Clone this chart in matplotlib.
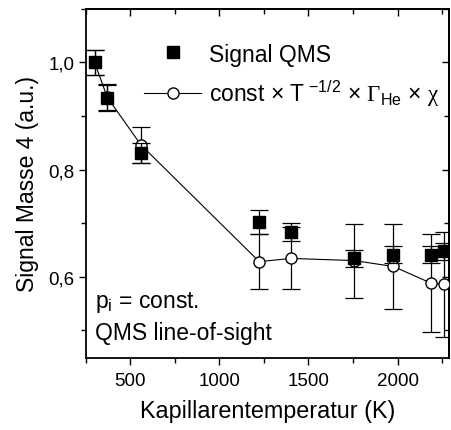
import matplotlib
matplotlib.use("Agg")
import matplotlib.pyplot as plt
from matplotlib.ticker import MultipleLocator, FuncFormatter
from matplotlib.lines import Line2D

plt.rcParams['font.family'] = ['Liberation Sans', 'DejaVu Sans']
plt.rcParams['mathtext.fontset'] = 'custom'
plt.rcParams['mathtext.rm'] = 'Liberation Sans'
plt.rcParams['mathtext.it'] = 'Liberation Sans:italic'
plt.rcParams['mathtext.sf'] = 'Liberation Sans'
plt.rcParams['mathtext.tt'] = 'Liberation Serif'

# Data
temperature = [300, 371, 560, 1224, 1402, 1756, 1977, 2187, 2263]
signal_qms = [1.0, 0.934, 0.831, 0.702, 0.683, 0.634, 0.641, 0.641, 0.647]
signal_err = [0.024, 0.023, 0.019, 0.023, 0.017, 0.016, 0.016, 0.016, 0.016]
model = [1.0, 0.935, 0.846, 0.628, 0.634, 0.630, 0.619, 0.588, 0.586]
model_err = [0.024, 0.025, 0.034, 0.051, 0.058, 0.069, 0.080, 0.092, 0.098]

x_ticks = [500, 1000, 1500, 2000]
y_ticks = [0.6, 0.8, 1.0]

fig = plt.figure(figsize=(4.51, 4.31), dpi=100)
ax = fig.add_axes([0.190, 0.167, 0.806, 0.810])

# model curve with error bars
ax.errorbar(temperature, model, yerr=model_err, fmt='-', color='black', lw=0.8,
            ecolor='black', elinewidth=0.9, capsize=6.5, capthick=0.9, zorder=2)
ax.plot(temperature, model, 'o', ms=8, mfc='white', mec='black', mew=1.0, zorder=3)

# QMS signal with error bars
ax.errorbar(temperature, signal_qms, yerr=signal_err, fmt='none',
            ecolor='black', elinewidth=0.9, capsize=6.5, capthick=0.9, zorder=4)
ax.plot(temperature, signal_qms, 's', ms=8, mfc='black', mec='black', zorder=5)

ax.set_xlim(250, 2290)
ax.set_ylim(0.448, 1.10)

ax.set_xticks(x_ticks)
ax.xaxis.set_minor_locator(MultipleLocator(250))
ax.set_yticks(y_ticks)
ax.yaxis.set_minor_locator(MultipleLocator(0.1))
ax.yaxis.set_major_formatter(FuncFormatter(lambda v, p: f"{v:.1f}".replace('.', ',')))

ax.tick_params(axis='both', which='major', direction='out', length=5, width=1.0,
               labelsize=13.5)
ax.tick_params(axis='x', which='major', pad=5)
ax.tick_params(axis='y', which='major', pad=3)
ax.tick_params(axis='both', which='minor', direction='out', length=3.5, width=1.0)

for s in ax.spines.values():
    s.set_linewidth(1.3)

secx = ax.secondary_xaxis('top')
secx.set_xticks(x_ticks)
secx.xaxis.set_minor_locator(MultipleLocator(250))
secx.tick_params(which='major', direction='in', length=5, width=1.0, labeltop=False)
secx.tick_params(which='minor', direction='in', length=3.5, width=1.0)
secy = ax.secondary_yaxis('right')
secy.set_yticks(y_ticks)
secy.yaxis.set_minor_locator(MultipleLocator(0.1))
secy.tick_params(which='major', direction='in', length=5, width=1.0, labelright=False)
secy.tick_params(which='minor', direction='in', length=3.5, width=1.0)
for sa in (secx, secy):
    for s in sa.spines.values():
        s.set_linewidth(1.3)

ax.set_xlabel('Kapillarentemperatur (K)', fontsize=16.8, labelpad=7)
ax.set_ylabel('Signal Masse 4 (a.u.)', fontsize=16.5, labelpad=7)

handles = [
    Line2D([], [], ls='none', marker='s', ms=8, mfc='black', mec='black'),
    Line2D([], [], ls='-', lw=0.8, color='black', marker='o', ms=8, mfc='white', mec='black'),
]
labels = ['Signal QMS',
          r'const $\times$ T$^{\ \mathrm{-1/2}}$ $\times$ $\mathtt{\Gamma}_{\mathrm{He}}$ $\times$ $\mathtt{\chi}$']
ax.legend(handles, labels, loc='upper left', bbox_to_anchor=(0.135, 0.93),
          frameon=False, fontsize=16.5, handlelength=2.5, handletextpad=0.35,
          labelspacing=0.5, borderaxespad=0)

ax.text(0.026, 0.146, r'p$_{\mathrm{i}}$ = const.', transform=ax.transAxes, fontsize=16.5)
ax.text(0.026, 0.055, 'QMS line-of-sight', transform=ax.transAxes, fontsize=16.5)

fig.savefig('out.png', dpi=100)
